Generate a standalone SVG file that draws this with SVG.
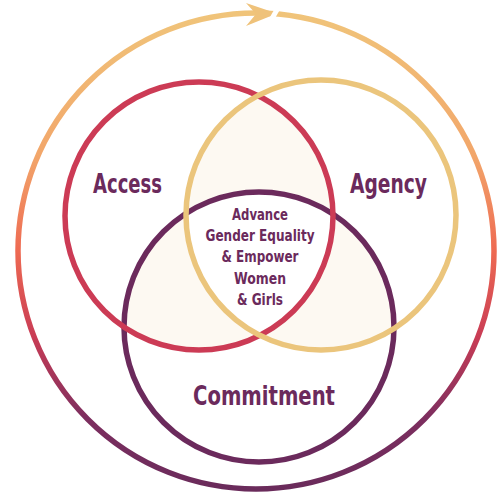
<svg xmlns="http://www.w3.org/2000/svg" width="500" height="495" viewBox="0 0 500 495">
<defs>
<linearGradient id="ring" x1="0" y1="0" x2="0" y2="1">
<stop offset="0" stop-color="#f0c47a"/>
<stop offset="0.3" stop-color="#f2a66a"/>
<stop offset="0.5" stop-color="#ee6a52"/>
<stop offset="0.68" stop-color="#c93c55"/>
<stop offset="0.85" stop-color="#7d2e5f"/>
<stop offset="1" stop-color="#6a2b5b"/>
</linearGradient>
<clipPath id="cA"><circle cx="199" cy="216" r="134"/></clipPath>
<clipPath id="cG"><circle cx="321" cy="215" r="135"/></clipPath>
<clipPath id="cC"><circle cx="259" cy="327" r="135"/></clipPath>
</defs>
<style>
.ring{fill:none;stroke-width:5.5}
.lbl{font-family:"DejaVu Sans Condensed","DejaVu Sans",sans-serif;font-stretch:condensed;font-weight:bold;fill:#6b2a5c}
.big{font-size:26px}
.mid{font-size:16.5px;text-anchor:middle}
</style>
<rect width="500" height="495" fill="#ffffff"/>
<g id="fills">
<g clip-path="url(#cA)"><circle cx="321" cy="215" r="135" fill="#fdf9f2"/><circle cx="259" cy="327" r="135" fill="#fdf9f2"/></g>
<g clip-path="url(#cG)"><circle cx="259" cy="327" r="135" fill="#fdf9f2"/></g>
<g clip-path="url(#cA)"><g clip-path="url(#cG)"><circle cx="259" cy="327" r="135" fill="#ffffff"/></g></g>
</g>
<g id="outer">
<circle class="ring" cx="256" cy="251" r="238" stroke="url(#ring)"/>
<polygon points="246,3 277,13.5 246,26 256,14" fill="#efc27a"/>
<rect x="272" y="8" width="5" height="12" fill="#ffffff" transform="rotate(30 274 14)"/>
</g>
<g id="commitment">
<circle class="ring" cx="259" cy="327" r="135" stroke="#6b2a5c"/>
<text class="lbl big" x="193" y="405" textLength="142" lengthAdjust="spacingAndGlyphs">Commitment</text>
</g>
<g id="access">
<circle class="ring" cx="199" cy="216" r="134" stroke="#cc3b55"/>
<text class="lbl big" x="93" y="193" textLength="69" lengthAdjust="spacingAndGlyphs">Access</text>
</g>
<g id="agency">
<circle class="ring" cx="321" cy="215" r="135" stroke="#ebc57c"/>
<text class="lbl big" x="350" y="193" textLength="77" lengthAdjust="spacingAndGlyphs">Agency</text>
</g>
<g id="center">
<text class="lbl mid" x="260" y="220" textLength="56" lengthAdjust="spacingAndGlyphs">Advance</text>
<text class="lbl mid" x="260" y="241" textLength="109" lengthAdjust="spacingAndGlyphs">Gender Equality</text>
<text class="lbl mid" x="260" y="262" textLength="77" lengthAdjust="spacingAndGlyphs">&amp; Empower</text>
<text class="lbl mid" x="260" y="284" textLength="52" lengthAdjust="spacingAndGlyphs">Women</text>
<text class="lbl mid" x="260" y="305" textLength="46" lengthAdjust="spacingAndGlyphs">&amp; Girls</text>
</g>
<g id="connectors"/>
</svg>
